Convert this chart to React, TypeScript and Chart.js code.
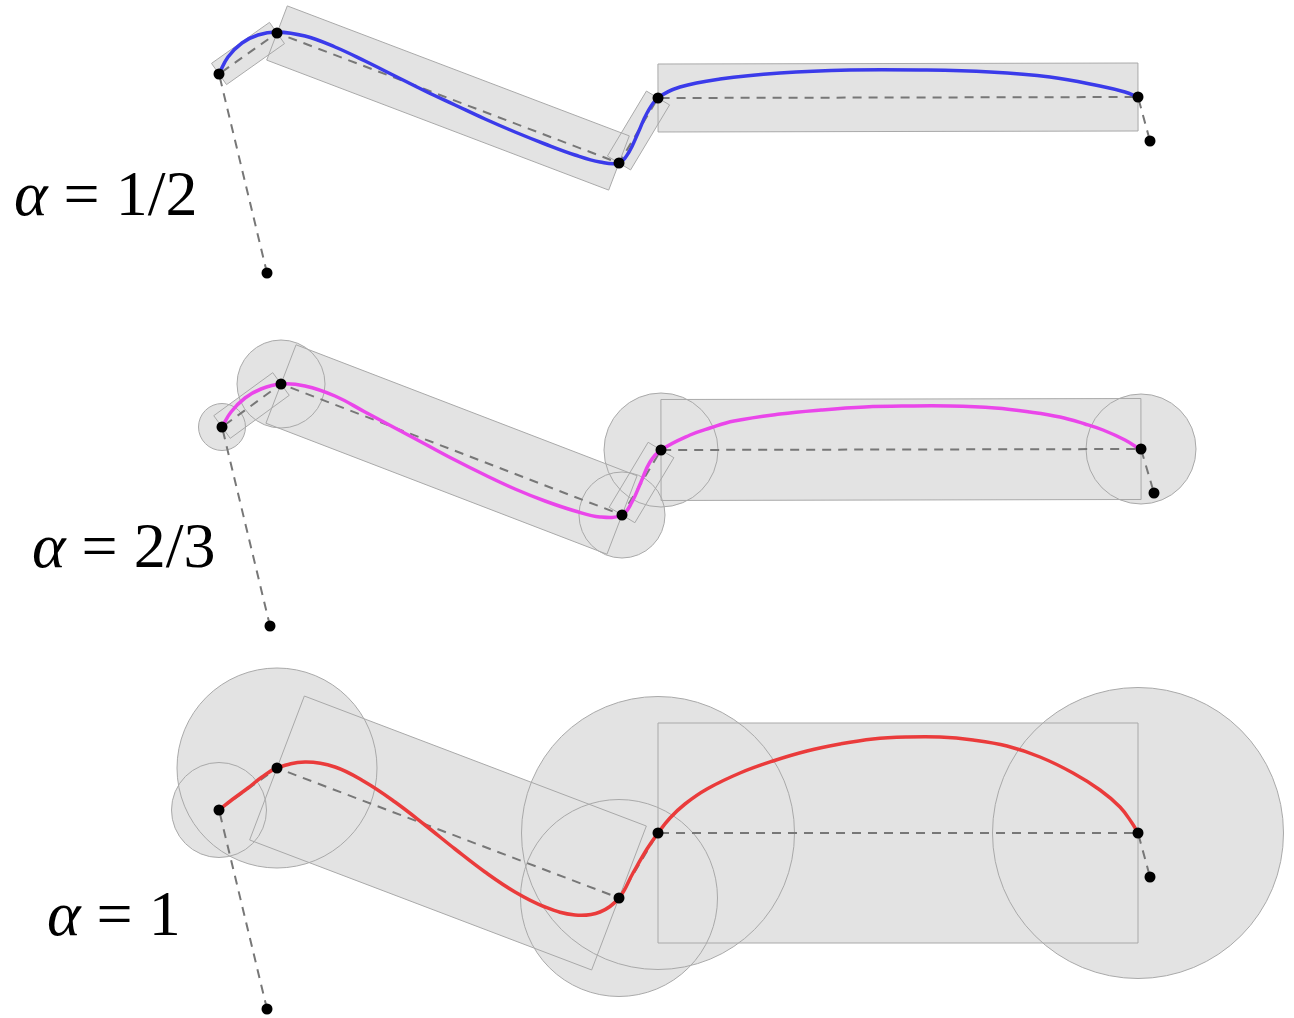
import React, { useEffect, useRef } from "react";
import { Chart, registerables } from "chart.js";

Chart.register(...registerables);

// ---- control polygons (7 points each: outer guide, 5 curve points, outer guide)
const ctrlX1 = [267, 219, 277, 619, 658, 1138, 1150];
const ctrlY1 = [273, 74, 33, 163, 98, 97, 141];
const ctrlX2 = [270, 222, 281, 622, 661, 1141, 1154];
const ctrlY2 = [626, 427, 384, 515, 450, 449, 493];
const ctrlX3 = [267, 219, 277, 619, 658, 1138, 1150];
const ctrlY3 = [1009, 810, 768, 898, 833, 833, 877];

// ---- curves
const curveX1 = [219, 228, 242, 258, 277, 305, 335, 365, 395, 425, 455, 485, 515, 545, 575, 600, 619, 629, 638, 647, 658, 680, 720, 780, 850, 920, 990, 1050, 1100, 1125, 1138];
const curveY1 = [74, 57, 43, 35, 32, 36, 47, 61, 76, 91, 105, 119, 132, 144, 155, 162, 163, 152, 133, 113, 98, 87, 79, 73, 70, 70, 72, 77, 86, 92, 97];

const curveX2 = [222, 231, 245, 261, 281, 305, 335, 365, 395, 425, 455, 485, 515, 545, 575, 600, 622, 632, 641, 650, 661, 690, 710, 734, 780, 821, 865, 908, 950, 995, 1030, 1060, 1085, 1103, 1125, 1141];
const curveY2 = [427, 412, 398, 389, 384, 386, 396, 412, 428, 444, 460, 475, 489, 501, 511, 517, 515, 502, 482, 462, 450, 435, 428, 421, 414, 410, 407, 406, 406, 408, 412, 417, 424, 430, 440, 450];

const curveX3 = [219, 233, 248, 262, 277, 305, 335, 365, 395, 425, 455, 485, 515, 545, 575, 600, 619, 633, 647, 658, 670, 685, 707, 740, 773, 807, 840, 873, 907, 940, 973, 1007, 1040, 1073, 1100, 1120, 1132, 1138];
const curveY3 = [810, 799, 788, 777, 768, 762, 767, 782, 802, 825, 849, 872, 892, 907, 915, 912, 898, 873, 849, 833, 818, 804, 789, 773, 761, 751, 744, 739, 737, 737, 740, 746, 757, 773, 790, 807, 823, 833];

// ---- rectangles: segment start index (into ctrl arrays) and half widths
const rectSeg1 = [1, 2, 3, 4];
const rectHalf1 = [13, 29, 13.5, 34];
const rectSeg2 = [1, 2, 3, 4];
const rectHalf2 = [14, 42, 15, 50.5];
const rectSeg3 = [2, 4];
const rectHalf3 = [77, 110];

// ---- circles: point index and radius
const circPt2 = [1, 2, 3, 4, 5];
const circR2 = [23.5, 44, 43, 57, 55];
const circPt3 = [1, 2, 3, 4, 5];
const circR3 = [47.5, 100, 98.5, 136.5, 145.5];

// ---- labels
const alphaValues = ["1/2", "2/3", "1"];
const curveColors = ["#3b3bea", "#ea46ea", "#ea3b3b"];

const ctrlXs = [ctrlX1, ctrlX2, ctrlX3];
const ctrlYs = [ctrlY1, ctrlY2, ctrlY3];
const curveXs = [curveX1, curveX2, curveX3];
const curveYs = [curveY1, curveY2, curveY3];
const rectSegs = [rectSeg1, rectSeg2, rectSeg3];
const rectHalfs = [rectHalf1, rectHalf2, rectHalf3];
const circPts: number[][] = [[], circPt2, circPt3];
const circRs: number[][] = [[], circR2, circR3];

const labelPos = [
  { x: 14, y: 215 },
  { x: 32, y: 567 },
  { x: 47, y: 935 },
];
const FAMILY = '"Liberation Serif", "Times New Roman", Times, serif';
const FONT_PX = 64;

const shapesPlugin = {
  id: "shapes",
  beforeDatasetsDraw(chart: any) {
    const ctx = chart.ctx;
    const xs = chart.scales.x;
    const ys = chart.scales.y;
    const px = (v: number) => xs.getPixelForValue(v);
    const py = (v: number) => ys.getPixelForValue(v);
    const unit = Math.abs(px(1) - px(0));
    const paths: Path2D[] = [];
    for (let p = 0; p < 3; p++) {
      const cx = ctrlXs[p];
      const cy = ctrlYs[p];
      rectSegs[p].forEach((s, k) => {
        const ax = px(cx[s]), ay = py(cy[s]);
        const bx = px(cx[s + 1]), by = py(cy[s + 1]);
        const len = Math.hypot(bx - ax, by - ay);
        const nx = -(by - ay) / len, ny = (bx - ax) / len;
        const h = rectHalfs[p][k] * unit;
        const path = new Path2D();
        path.moveTo(ax + nx * h, ay + ny * h);
        path.lineTo(bx + nx * h, by + ny * h);
        path.lineTo(bx - nx * h, by - ny * h);
        path.lineTo(ax - nx * h, ay - ny * h);
        path.closePath();
        paths.push(path);
      });
      circPts[p].forEach((i, k) => {
        const path = new Path2D();
        path.arc(px(cx[i]), py(cy[i]), circRs[p][k] * unit, 0, Math.PI * 2);
        path.closePath();
        paths.push(path);
      });
    }
    ctx.save();
    ctx.fillStyle = "#e3e3e3";
    paths.forEach((pa) => ctx.fill(pa));
    ctx.strokeStyle = "#a9a9a9";
    ctx.lineWidth = 1;
    paths.forEach((pa) => ctx.stroke(pa));
    ctx.restore();
  },
  afterDraw(chart: any) {
    const ctx = chart.ctx;
    ctx.save();
    ctx.fillStyle = "#000";
    ctx.textBaseline = "alphabetic";
    alphaValues.forEach((v, i) => {
      const pos = labelPos[i];
      ctx.font = "italic " + FONT_PX + "px " + FAMILY;
      ctx.fillText("α", pos.x, pos.y);
      const w = ctx.measureText("α").width;
      ctx.font = FONT_PX + "px " + FAMILY;
      ctx.fillText(" = " + v, pos.x + w, pos.y);
    });
    ctx.restore();
  },
};

export default function App() {
  const ref = useRef<HTMLCanvasElement | null>(null);
  useEffect(() => {
    let chart: any = null;
    let cancelled = false;
    const build = () => {
      if (cancelled || !ref.current) return;
      const datasets: any[] = [];
      for (let p = 0; p < 3; p++) {
        datasets.push({
          label: "control " + (p + 1),
          data: ctrlXs[p].map((x, i) => ({ x, y: ctrlYs[p][i] })),
          showLine: true,
          borderColor: "#777777",
          borderWidth: 2,
          borderDash: [9, 7],
          pointRadius: 0,
          tension: 0,
          order: 3,
          clip: false,
        });
        datasets.push({
          label: "curve " + (p + 1),
          data: curveXs[p].map((x, i) => ({ x, y: curveYs[p][i] })),
          showLine: true,
          borderColor: curveColors[p],
          borderWidth: 3.5,
          pointRadius: 0,
          tension: 0.4,
          order: 2,
          clip: false,
        });
        datasets.push({
          label: "points " + (p + 1),
          data: ctrlXs[p].map((x, i) => ({ x, y: ctrlYs[p][i] })),
          showLine: false,
          pointRadius: 5.5,
          pointBackgroundColor: "#000",
          pointBorderWidth: 0,
          order: 1,
          clip: false,
        });
      }
      chart = new Chart(ref.current, {
        type: "scatter",
        data: { datasets },
        options: {
          animation: false,
          responsive: false,
          maintainAspectRatio: false,
          layout: { padding: 0, autoPadding: false },
          plugins: { legend: { display: false }, tooltip: { enabled: false } },
          events: [],
          scales: {
            x: { type: "linear", min: 0, max: 1294, display: false },
            y: { type: "linear", min: 0, max: 1018, reverse: true, display: false },
          },
        },
        plugins: [shapesPlugin],
      } as any);
    };
    const fontsApi: any = (document as any).fonts;
    if (fontsApi && fontsApi.load) {
      Promise.all([
        fontsApi.load("italic " + FONT_PX + 'px "Liberation Serif"'),
        fontsApi.load(FONT_PX + 'px "Liberation Serif"'),
      ])
        .catch(() => null)
        .then(build);
    } else {
      build();
    }
    return () => {
      cancelled = true;
      if (chart) chart.destroy();
    };
  }, []);
  return (
    <div style={{ position: "absolute", left: 0, top: 0, width: 1294, height: 1018, background: "#fff" }}>
      <canvas ref={ref} width={1294} height={1018} style={{ display: "block" }} />
    </div>
  );
}
